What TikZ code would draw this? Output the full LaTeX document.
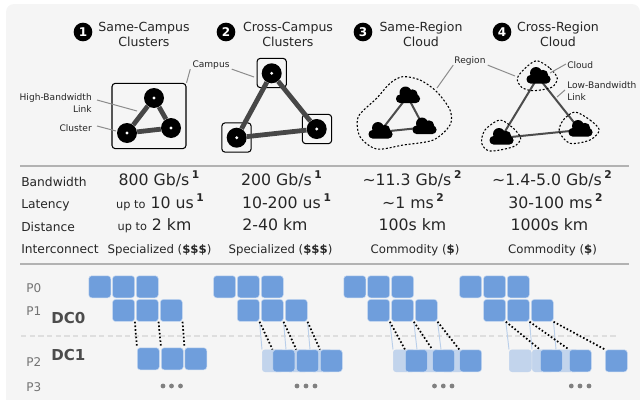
\documentclass[tikz,border=0pt]{standalone}
\usepackage{fontspec}
\setmainfont{DejaVu Sans}
\newcommand{\supnum}[1]{\,\raisebox{.5em}{\fontsize{8}{8}\selectfont\bfseries #1}}
\newcommand{\upto}{{\fontsize{8.5}{9}\selectfont up to}\ }
\begin{document}
\begin{tikzpicture}[x=.75pt,y=-.75pt,
   textnode/.style={inner sep=0pt,text height=.73em,text depth=0pt,text=black!85},
   title/.style={textnode,font=\fontsize{9.4}{9.4}\selectfont},
   badge/.style={circle,fill=black,text=white,inner sep=0pt,minimum size=14pt,font=\fontsize{9}{9}\selectfont\bfseries},
   tiny/.style={textnode,font=\fontsize{6.8}{6.8}\selectfont},
   rowname/.style={textnode,anchor=west,font=\fontsize{9.2}{9.2}\selectfont},
   value/.style={textnode,font=\fontsize{11.8}{11.8}\selectfont},
   cost/.style={textnode,font=\fontsize{8.8}{8.8}\selectfont},
   procname/.style={textnode,anchor=west,text=black!55,font=\fontsize{9}{9}\selectfont},
   dcname/.style={textnode,anchor=west,text=black!70,font=\fontsize{11.3}{11.3}\selectfont\bfseries},
   leader/.style={draw=black!45,line width=.75pt},
   rule/.style={draw=black!30,line width=.8pt},
   box/.style={draw=black,line width=.8pt,rounded corners=2.5pt,fill=none,inner sep=0pt},
   cluster/.style={circle,fill=black,inner sep=0pt,minimum size=15pt,
      path picture={\fill[white] (path picture bounding box.center) circle (1.2pt);}},
   widelink/.style={draw=black!72,line width=3.6pt},
   thinlink/.style={draw=black!70,line width=1.5pt},
   point/.style={inner sep=0pt,minimum size=0pt},
   regionline/.style={draw=black,line width=.8pt,dash pattern=on 1.5pt off 1.4pt},
   cloudicon/.pic={
      \fill[black] (-2,-4) circle (6) (5,-2) circle (5.2);
      \fill[black,rounded corners=3pt] (-11.5,-2) rectangle (12.5,6.5);
   },
   block/.style={rectangle,fill=blockblue,draw=white!60!blockblue,line width=.4pt,rounded corners=2.2pt,
      minimum size=16.5pt,inner sep=0pt,anchor=north west},
   ghost/.style={block,fill=ghostblue,draw=ghostblue},
   move/.style={draw=black,line width=1.3pt,dash pattern=on 1.2pt off 1.6pt},
   ghostmove/.style={draw=ghostblue!90!blockblue,line width=.7pt},
   dot/.style={circle,fill=black!50,inner sep=0pt,minimum size=3.6pt}]
   \definecolor{blockblue}{HTML}{6F9EDC}
   \definecolor{ghostblue}{HTML}{C2D4EC}
   \useasboundingbox (0,0) rectangle (640,400);
   \fill[black!4] (6,400) [rounded corners=6pt] |- (640,4) [sharp corners] -- (640,400) -- cycle;

   \node[badge] (b1) at (83,32) {1};
   \node[badge] (b2) at (226,32) {2};
   \node[badge] (b3) at (363,32) {3};
   \node[badge] (b4) at (502,32) {4};
   \node[title] (t1a) at (144,27) {Same-Campus};
   \node[title] (t1b) at (144,42) {Clusters};
   \node[title] (t2a) at (288,27) {Cross-Campus};
   \node[title] (t2b) at (288,42) {Clusters};
   \node[title] (t3a) at (421,27) {Same-Region};
   \node[title] (t3b) at (421,42) {Cloud};
   \node[title] (t4a) at (558,27) {Cross-Region};
   \node[title] (t4b) at (558,42) {Cloud};

   \node[box,minimum width=55.5pt,minimum height=49pt] (campus1) at (149,116) {};
   \node[cluster] (c1a) at (154,98) {};
   \node[cluster] (c1b) at (127,133) {};
   \node[cluster] (c1c) at (171,128) {};
   \path[widelink] (c1a) edge (c1b);
   \path[widelink] (c1b) edge (c1c);
   \path[widelink] (c1c) edge (c1a);

   \node[box,minimum size=22pt] (campus2a) at (271.7,73) {};
   \node[box,minimum size=22pt] (campus2b) at (236.5,137.5) {};
   \node[box,minimum size=22pt] (campus2c) at (317,129) {};
   \node[cluster] (c2a) at (271.7,73.3) {};
   \node[cluster] (c2b) at (236.7,137.7) {};
   \node[cluster] (c2c) at (316.7,129) {};
   \path[widelink] (c2a) edge (c2b);
   \path[widelink] (c2b) edge (c2c);
   \path[widelink] (c2c) edge (c2a);

   \node[point] (c3a) at (407.5,96.5) {};
   \node[point] (c3b) at (380,132) {};
   \node[point] (c3c) at (424,127.5) {};
   \path[thinlink] (c3a) edge (c3b);
   \path[thinlink] (c3b) edge (c3c);
   \path[thinlink] (c3c) edge (c3a);
   \pic at (c3a) {cloudicon};
   \pic at (c3b) {cloudicon};
   \pic at (c3c) {cloudicon};
   \draw[regionline] plot[smooth cycle] coordinates {(402.7,76.7) (420,80) (436.7,91.7) (450,110) (450,125) (433.3,140) (403.3,145) (376.7,149) (360,136.7) (358.3,116.7) (376.7,98.3) (390,83.3)};

   \node[point] (c4a) at (538,77) {};
   \node[point] (c4b) at (501,138) {};
   \node[point] (c4c) at (580,130) {};
   \path[thinlink] (c4a) edge (c4b);
   \path[thinlink] (c4b) edge (c4c);
   \path[thinlink] (c4c) edge (c4a);
   \pic at (c4a) {cloudicon};
   \pic at (c4b) {cloudicon};
   \pic at (c4c) {cloudicon};
   \draw[regionline] plot[smooth cycle] coordinates {(536.7,60.7) (550,68.3) (557.3,78.3) (551.7,87.3) (533.3,90.7) (521.7,87.3) (517.3,78.3) (525,68.3)};
   \draw[regionline] plot[smooth cycle] coordinates {(500,120) (513.3,128.3) (520.7,138.3) (513.3,146.7) (490,151) (481.7,143.3) (485,130)};
   \draw[regionline] plot[smooth cycle] coordinates {(575,112) (590,120) (599.3,130) (590,140) (570,143.3) (559.3,131.7) (563.3,120)};

   \node[tiny,anchor=east] (lhigh) at (92,96) {High-Bandwidth};
   \node[tiny,anchor=east] (llink) at (92,108) {Link};
   \node[tiny,anchor=east] (lcluster) at (92,127) {Cluster};
   \node[tiny] (lcampus) at (211,63) {Campus};
   \node[tiny] (lregion) at (470,59) {Region};
   \node[tiny,anchor=west] (lcloud) at (567,64) {Cloud};
   \node[tiny,anchor=west] (llow) at (567,84) {Low-Bandwidth};
   \node[tiny,anchor=west] (llink2) at (567,95.5) {Link};
   \coordinate (shigh) at (97,100);
   \coordinate (phigh) at (137,111);
   \coordinate (scluster) at (97,126);
   \coordinate (pcluster) at (116,131);
   \coordinate (pcampus) at (254,77);
   \coordinate (pregion3) at (437,88);
   \coordinate (pregion4) at (515,76);
   \coordinate (pcloud) at (550,73);
   \coordinate (plow) at (557,97);
   \coordinate (slow) at (565,90);
   \draw[leader] (shigh) -- (phigh);
   \draw[leader] (scluster) -- (pcluster);
   \draw[leader] ([shift={(-2,1)}]lcampus.south west) -- (campus1.north east);
   \draw[leader] ([shift={(2,1)}]lcampus.south east) -- (pcampus);
   \draw[leader] ([shift={(-1,1)}]lregion.south west) -- (pregion3);
   \draw[leader] ([shift={(2,1)}]lregion.south east) -- (pregion4);
   \draw[leader] ([shift={(-1,0)}]lcloud.west) -- (pcloud);
   \draw[leader] (slow) -- (plow);

   \path[rule] (20,166) -- (629,166);
   \path[rule] (20,264) -- (629,264);

   \node[rowname] (rband) at (21,182) {Bandwidth};
   \node[rowname] (rlat) at (21,204) {Latency};
   \node[rowname] (rdist) at (21,227) {Distance};
   \node[rowname] (rinter) at (21,249) {Interconnect};

   \node[value] (v1a) at (159,181) {800 Gb/s\supnum{1}};
   \node[value] (v1b) at (160,204) {\upto10 us\supnum{1}};
   \node[value] (v1c) at (154.5,226) {\upto2 km};
   \node[cost] (v1d) at (159.5,249) {Specialized ({\bfseries\$\$\$})};
   \node[value] (v2a) at (281.5,181) {200 Gb/s\supnum{1}};
   \node[value] (v2b) at (286.5,204) {10-200 us\supnum{1}};
   \node[value] (v2c) at (275,226) {2-40 km};
   \node[cost] (v2d) at (280.5,249) {Specialized ({\bfseries\$\$\$})};
   \node[value] (v3a) at (412,181) {\textasciitilde 11.3 Gb/s\supnum{2}};
   \node[value] (v3b) at (413,204) {\textasciitilde 1 ms\supnum{2}};
   \node[value] (v3c) at (412.5,226) {100s km};
   \node[cost] (v3d) at (415,249) {Commodity ({\bfseries\$})};
   \node[value] (v4a) at (552,181) {\textasciitilde 1.4-5.0 Gb/s\supnum{2}};
   \node[value] (v4b) at (555.5,204) {30-100 ms\supnum{2}};
   \node[value] (v4c) at (549.5,226) {1000s km};
   \node[cost] (v4d) at (552.5,249) {Commodity ({\bfseries\$})};

   \node[procname] (p0) at (26,288) {P0};
   \node[procname] (p1) at (26,311) {P1};
   \node[procname] (p2) at (26,362) {P2};
   \node[procname] (p3) at (26,387) {P3};
   \node[dcname] (dc0) at (51,319) {DC0};
   \node[dcname] (dc1) at (51,356) {DC1};
   \path[draw=black!13,line width=1.5pt,dash pattern=on 4pt off 2.5pt] (21,336) -- (618,336);

   \node[block] (g1a0) at (88.5,275.5) {};
   \node[block] (g1b0) at (112.3,275.5) {};
   \node[block] (g1c0) at (136,275.5) {};
   \node[block] (g1a1) at (112.3,299.2) {};
   \node[block] (g1b1) at (136,299.2) {};
   \node[block] (g1c1) at (160,299.2) {};
   \node[block] (g1a2) at (137,347.5) {};
   \node[block] (g1b2) at (161,347.5) {};
   \node[block] (g1c2) at (184.5,347.5) {};
   \path[move] (g1a1.south east) edge (g1a2.north west);
   \path[move] (g1b1.south east) edge (g1b2.north west);
   \path[move] (g1c1.south east) edge (g1c2.north west);

   \node[block] (g2a0) at (213.3,275.5) {};
   \node[block] (g2b0) at (237,275.5) {};
   \node[block] (g2c0) at (261,275.5) {};
   \node[block] (g2a1) at (237,299.2) {};
   \node[block] (g2b1) at (261,299.2) {};
   \node[block] (g2c1) at (285,299.2) {};
   \node[ghost] (g2x2) at (262,349.5) {};
   \node[ghost] (g2y2) at (286,349.5) {};
   \node[ghost] (g2z2) at (310,349.5) {};
   \node[block] (g2a2) at (272.5,349.5) {};
   \node[block] (g2b2) at (296.3,349.5) {};
   \node[block] (g2c2) at (320,349.5) {};
   \path[ghostmove] (g2a1.south east) edge (g2x2.north west);
   \path[ghostmove] (g2b1.south east) edge (g2y2.north west);
   \path[ghostmove] (g2c1.south east) edge (g2z2.north west);
   \path[move] (g2a1.south east) edge (g2a2.north west);
   \path[move] (g2b1.south east) edge (g2b2.north west);
   \path[move] (g2c1.south east) edge (g2c2.north west);

   \node[block] (g3a0) at (343.5,275.5) {};
   \node[block] (g3b0) at (367.3,275.5) {};
   \node[block] (g3c0) at (391.3,275.5) {};
   \node[block] (g3a1) at (367.3,299.2) {};
   \node[block] (g3b1) at (391.3,299.2) {};
   \node[block] (g3c1) at (415,299.2) {};
   \node[ghost] (g3x2) at (393,349.5) {};
   \node[ghost] (g3y2) at (417,349.5) {};
   \node[ghost] (g3z2) at (441,349.5) {};
   \node[block] (g3a2) at (405,349.5) {};
   \node[block] (g3b2) at (432.3,349.5) {};
   \node[block] (g3c2) at (459.3,349.5) {};
   \path[ghostmove] (g3a1.south east) edge (g3x2.north west);
   \path[ghostmove] (g3b1.south east) edge (g3y2.north west);
   \path[ghostmove] (g3c1.south east) edge (g3z2.north west);
   \path[move] (g3a1.south east) edge (g3a2.north west);
   \path[move] (g3b1.south east) edge (g3b2.north west);
   \path[move] (g3c1.south east) edge (g3c2.north west);

   \node[block] (g4a0) at (459.3,275.5) {};
   \node[block] (g4b0) at (483.3,275.5) {};
   \node[block] (g4c0) at (507,275.5) {};
   \node[block] (g4a1) at (483.3,299.2) {};
   \node[block] (g4b1) at (507,299.2) {};
   \node[block] (g4c1) at (531,299.2) {};
   \node[ghost] (g4x2) at (509,349.5) {};
   \node[ghost] (g4y2) at (532,349.5) {};
   \node[ghost] (g4z2) at (556,349.5) {};
   \node[block] (g4a2) at (540,349.5) {};
   \node[block] (g4b2) at (569,349.5) {};
   \node[block] (g4c2) at (605,349.5) {};
   \path[ghostmove] (g4a1.south east) edge (g4x2.north west);
   \path[ghostmove] (g4b1.south east) edge (g4y2.north west);
   \path[ghostmove] (g4c1.south east) edge (g4z2.north west);
   \path[move] (g4a1.south east) edge (g4a2.north west);
   \path[move] (g4b1.south east) edge (g4b2.north west);
   \path[move] (g4c1.south east) edge (g4c2.north west);

   \node[dot] (d1a) at (163,386) {};
   \node[dot] (d1b) at (171.5,386) {};
   \node[dot] (d1c) at (180.5,386) {};
   \node[dot] (d2a) at (297,386) {};
   \node[dot] (d2b) at (306,386) {};
   \node[dot] (d2c) at (315,386) {};
   \node[dot] (d3a) at (434.5,386) {};
   \node[dot] (d3b) at (443.3,386) {};
   \node[dot] (d3c) at (452,386) {};
   \node[dot] (d4a) at (571.3,386) {};
   \node[dot] (d4b) at (580,386) {};
   \node[dot] (d4c) at (589,386) {};
\end{tikzpicture}
\end{document}
